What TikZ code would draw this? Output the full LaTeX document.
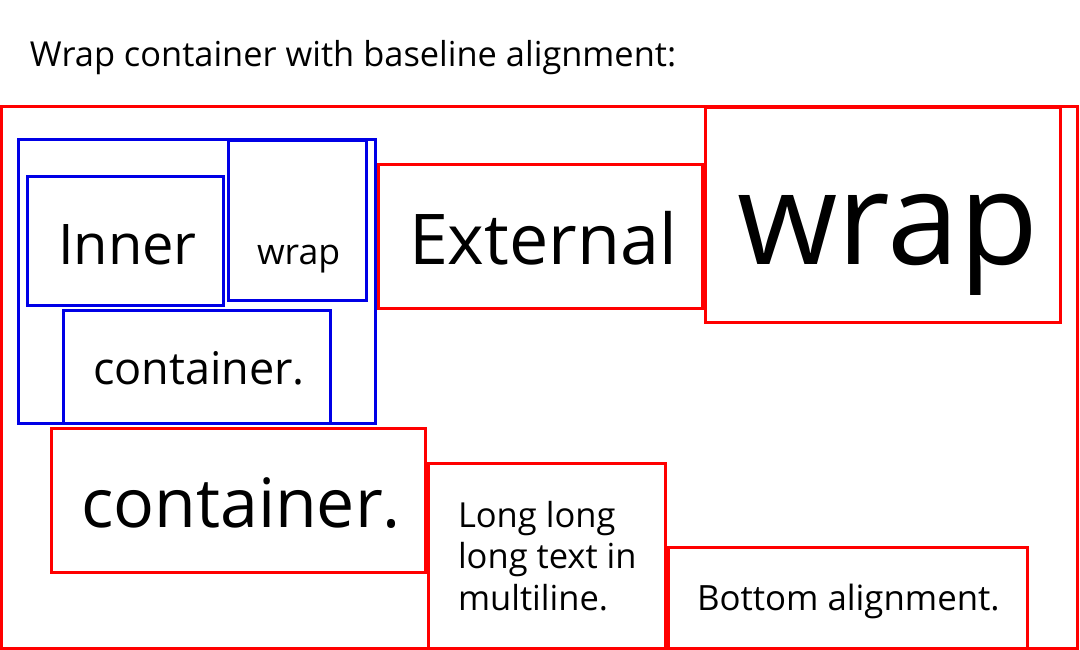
\documentclass[tikz,border=0pt]{standalone}
\usepackage{fontspec}
\setmainfont{Open Sans}
\tikzset{
  redbox/.style={draw={rgb,255:red,255;green,0;blue,0}, line width=3pt},
  bluebox/.style={draw={rgb,255:red,0;green,0;blue,230}, line width=3pt},
  lbl/.style={anchor=base west, inner sep=0pt, outer sep=0pt, text=black},
}
\newcommand{\fs}[1]{\fontsize{#1pt}{#1pt}\selectfont}
\begin{document}
\begin{tikzpicture}[x=1pt,y=-1pt]
\useasboundingbox (0,0) rectangle (1080,650);
\fill[white] (0,0) rectangle (1080,650);
% title
\node[lbl] (title) at (30,67) {\fs{34.4}Wrap container with baseline alignment:};
% outer red container
\draw[redbox] (1.5,106.5) rectangle (1077.5,648);
% blue inner container
\draw[bluebox] (18.5,139.5) rectangle (375,423.5);
\draw[bluebox] (27.5,177) rectangle (223.5,305.5);
\draw[bluebox] (228,140.5) rectangle (366,300);
\draw[bluebox] (63.5,310) rectangle (330,423.5);
\node[lbl] (inner) at (58,264) {\fs{56}Inner};
\node[lbl] (wrapsmall) at (257,264) {\fs{35.6}wrap};
\node[lbl] (contsmall) at (93,384) {\fs{45}container.};
% red items
\draw[redbox] (378.5,165) rectangle (702,308.5);
\draw[redbox] (705,107.5) rectangle (1060,322.5);
\draw[redbox] (51.5,428) rectangle (425.5,572);
\draw[redbox] (428.5,463) rectangle (665,648);
\draw[redbox] (668,547) rectangle (1027,648);
\node[lbl] (external) at (409,264) {\fs{70}External};
\node[lbl] (wrapbig) at (737,264) {\fs{129}wrap};
\node[lbl] (contbig) at (81,527) {\fs{68}container.};
\node[lbl] (longtxt) at (458,527) {\fs{34.5}Long long};
\node[lbl] (longtxt2) at (458,568) {\fs{34.5}long text in};
\node[lbl] (longtxt3) at (458,610) {\fs{34.5}multiline.};
\node[lbl] (bottom) at (697,610) {\fs{34.8}Bottom alignment.};
\end{tikzpicture}
\end{document}
